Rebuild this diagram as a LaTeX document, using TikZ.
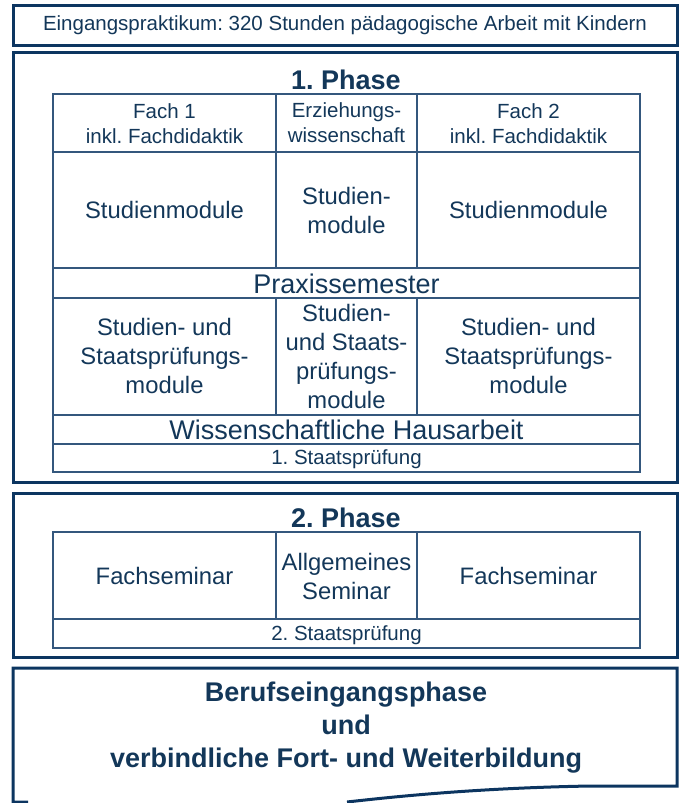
\documentclass[tikz,border=0pt]{standalone}
\usepackage{fontspec}
\setmainfont{Liberation Sans}
\frenchspacing
\definecolor{navy}{HTML}{0C3560}
\definecolor{gridblue}{HTML}{34577D}
\definecolor{ink}{HTML}{133759}
\newcommand{\fs}[2]{\fontsize{#1}{#2}\selectfont}
\tikzset{
    frame/.style={line width=3pt,draw=navy,line join=miter},
    cell/.style={line width=1.3pt,draw=gridblue},
    txt/.style={text=ink,inner sep=0pt,align=center},
    small/.style={txt,font=\fs{20.5}{25}},
    mid/.style={txt,font=\fs{23.8}{29}},
    big/.style={txt,font=\fs{27}{32}},
    head/.style={txt,font=\bfseries\fs{27}{33}},
}
\newcommand{\setup}{
    % columns of the inner grids
    \coordinate (c0) at (53,0);
    \coordinate (c1) at (276,0);
    \coordinate (c2) at (417,0);
    \coordinate (c3) at (640,0);
}

\begin{document}
\begin{tikzpicture}[x=1pt,y=-1pt]
    \setup;
    \useasboundingbox (0,0) rectangle (680,803);

    % Eingangspraktikum
    \draw[frame] (13,5) rectangle (677,45);
    \node[small] (prakt) at (345,25) {Eingangspraktikum: 320 Stunden p\"adagogische Arbeit mit Kindern};

    % 1. Phase
    \draw[frame] (13,52) rectangle (677,482);
    \node[head] (ph1) at (346,80) {1. Phase};

    \draw[cell] (53,94) rectangle (640,472);
    \draw[cell] (53,152) -- (640,152);
    \draw[cell] (53,268) -- (640,268);
    \draw[cell] (53,298) -- (640,298);
    \draw[cell] (53,415) -- (640,415);
    \draw[cell] (53,444) -- (640,444);
    \draw[cell] (c1 |- 0,94)  -- (c1 |- 0,268);
    \draw[cell] (c2 |- 0,94)  -- (c2 |- 0,268);
    \draw[cell] (c1 |- 0,298) -- (c1 |- 0,415);
    \draw[cell] (c2 |- 0,298) -- (c2 |- 0,415);

    \node[small] (fach1)  at (164.5,124) {Fach 1\\inkl. Fachdidaktik};
    \node[small] (ezw)    at (346.5,123) {Erziehungs-\\wissenschaft};
    \node[small] (fach2)  at (528.5,124) {Fach 2\\inkl. Fachdidaktik};

    \node[mid] (sm1) at (164.5,210) {Studienmodule};
    \node[mid] (sm2) at (346.5,210) {Studien-\\module};
    \node[mid] (sm3) at (528.5,210) {Studienmodule};

    \node[big] (praxis) at (346.5,284) {Praxissemester};

    \node[mid] (ssm1) at (164.5,356) {Studien- und\\Staatspr\"ufungs-\\module};
    \node[mid] (ssm2) at (346.5,356) {Studien-\\und Staats-\\pr\"ufungs-\\module};
    \node[mid] (ssm3) at (528.5,356) {Studien- und\\Staatspr\"ufungs-\\module};

    \node[big] (haus) at (346.5,430) {Wissenschaftliche Hausarbeit};
    \node[small] (sp1) at (346.5,459) {1. Staatspr\"ufung};

    % 2. Phase
    \draw[frame] (13,493) rectangle (677,657);
    \node[head] (ph2) at (346,518) {2. Phase};

    \draw[cell] (53,532) rectangle (640,648);
    \draw[cell] (53,619) -- (640,619);
    \draw[cell] (c1 |- 0,532) -- (c1 |- 0,619);
    \draw[cell] (c2 |- 0,532) -- (c2 |- 0,619);

    \node[mid] (fs1)  at (164.5,576) {Fachseminar};
    \node[mid] (allg) at (346.5,576) {Allgemeines\\Seminar};
    \node[mid] (fs2)  at (528.5,576) {Fachseminar};
    \node[small] (sp2) at (346.5,635) {2. Staatspr\"ufung};

    % Berufseingangsphase, unten abgerissen
    \draw[frame] (28,802) -- (13,802) -- (13,668) -- (677,668) -- (677,786)
        -- (590,786) .. controls (480,788) and (400,796) .. (347,802);
    \node[head] (beruf) at (346,728)
        {Berufseingangsphase\\und\\verbindliche Fort- und Weiterbildung};
\end{tikzpicture}
\end{document}
